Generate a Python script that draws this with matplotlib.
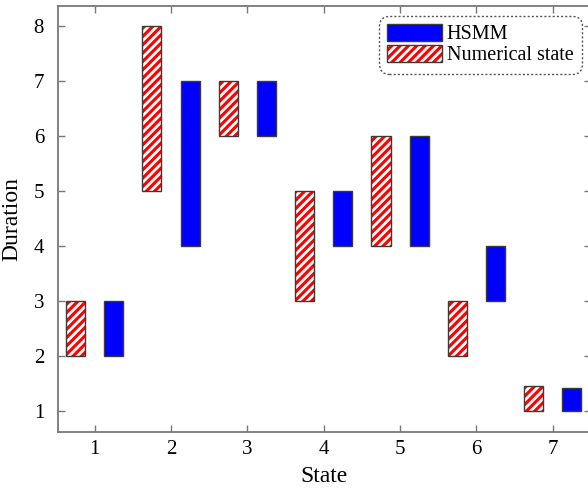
import matplotlib
matplotlib.use("Agg")
import matplotlib.pyplot as plt
from matplotlib.patches import Patch
import numpy as np

plt.rcParams['font.family'] = ['Liberation Serif', 'DejaVu Serif']
plt.rcParams['hatch.linewidth'] = 2.0

states = [1, 2, 3, 4, 5, 6, 7]
numerical_low = [2, 5, 6, 3, 4, 2, 1]
numerical_high = [3, 8, 7, 5, 6, 3, 1.46]
hsmm_low = [2, 4, 6, 4, 4, 3, 1]
hsmm_high = [3, 7, 7, 5, 6, 4, 1.42]

fig = plt.figure(figsize=(5.88, 4.88), dpi=100)
ax = fig.add_axes([58 / 588, 56 / 488, 533 / 588, 426 / 488])

x = np.array(states, dtype=float)
w = 0.25
EDGE = '#3a3a3a'
HATCH = '////'

# hatched red bars: white hatch layer, then a dark outline on top
ax.bar(x - 0.25, np.subtract(numerical_high, numerical_low), w, bottom=numerical_low,
       facecolor='red', edgecolor='white', linewidth=0, hatch=HATCH)
ax.bar(x - 0.25, np.subtract(numerical_high, numerical_low), w, bottom=numerical_low,
       facecolor='none', edgecolor=EDGE, linewidth=1.0)
ax.bar(x + 0.25, np.subtract(hsmm_high, hsmm_low), w, bottom=hsmm_low,
       color='blue', edgecolor=EDGE, linewidth=1.0)

ax.set_xlim(0.52, 7.5)
ax.set_ylim(0.62, 8.36)
ax.set_xticks(states)
ax.set_yticks(range(1, 9))
ax.tick_params(direction='in', top=True, right=True, labelsize=15, color='#777777',
               length=5, width=1)
ax.tick_params(axis='x', pad=6)
ax.tick_params(axis='y', pad=10)
for s in ax.spines.values():
    s.set_color('#777777')
    s.set_linewidth(1.3)

ax.set_xlabel('State', fontsize=17, labelpad=5)
ax.set_ylabel('Duration', fontsize=17, labelpad=8)

h_blue = Patch(facecolor='blue', edgecolor=EDGE, linewidth=1.0)
h_red_fill = Patch(facecolor='red', edgecolor='white', linewidth=0, hatch=HATCH)
h_red_line = Patch(facecolor='none', edgecolor=EDGE, linewidth=1.0)
leg = ax.legend(handles=[h_blue, (h_red_fill, h_red_line)],
                labels=['HSMM', 'Numerical state'],
                loc='upper right', bbox_to_anchor=(0.99, 0.985),
                fontsize=14.5, frameon=True, fancybox=True, handlelength=2.7,
                handleheight=0.85, handletextpad=0.25, borderpad=0.4, labelspacing=0.05,
                borderaxespad=0.2)
frame = leg.get_frame()
frame.set_edgecolor('#555555')
frame.set_linestyle((0, (1.5, 1.5)))
frame.set_linewidth(1.0)
frame.set_alpha(1)
frame.set_boxstyle('round', pad=0.0, rounding_size=0.5)

fig.savefig('out.png', dpi=100)
